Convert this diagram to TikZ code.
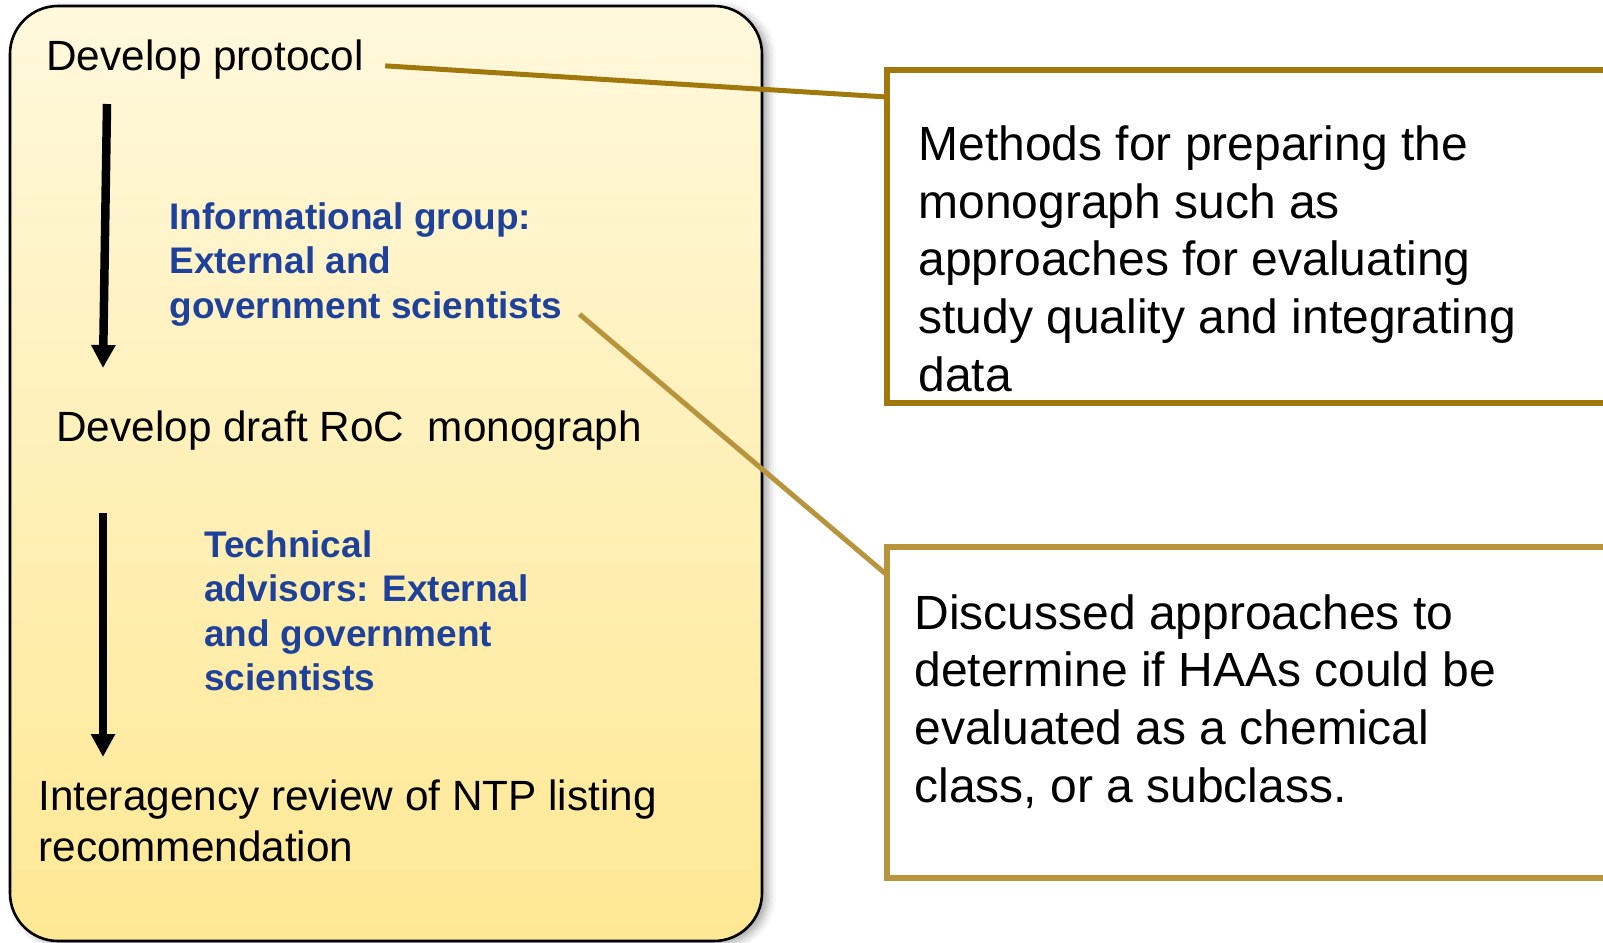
\documentclass[tikz,border=0pt]{standalone}
\usepackage{fontspec}
\setmainfont{Liberation Sans}
\usetikzlibrary{arrows.meta,shadows.blur}

\definecolor{panelTop}{RGB}{255,248,220}
\definecolor{panelBot}{RGB}{255,232,148}
\definecolor{darkGold}{RGB}{160,120,12}
\definecolor{lightGold}{RGB}{184,148,60}
\definecolor{whoBlue}{RGB}{30,65,155}

\begin{document}
\begin{tikzpicture}[x=0.5pt,y=-0.5pt,
  panel/.style={draw=black,line width=1.3pt,rounded corners=24pt,
    top color=panelTop,bottom color=panelBot,inner sep=0,outer sep=0,anchor=north west,
    blur shadow={shadow xshift=3pt,shadow yshift=-1.5pt,shadow blur radius=4pt,shadow opacity=35}},
  notebox/.style={draw=#1,line width=2.75pt,fill=white,inner sep=0,outer sep=0,
    anchor=north west,minimum width=420pt},
  stage/.style={anchor=base west,inner sep=0,align=left,font=\fontsize{21.15}{25.5}\selectfont},
  who/.style={anchor=base west,inner sep=0,align=left,text=whoBlue,
    font=\bfseries\fontsize{18.5}{22.25}\selectfont},
  note/.style={anchor=base west,inner sep=0,align=left,font=\fontsize{24}{28.8}\selectfont},
  flow/.style={line width=4.25pt,-{Triangle[width=11.5pt,length=11.5pt]}},
  link/.style={draw=#1,line width=2.5pt}]
\useasboundingbox (0,0) rectangle (1603,943);
\clip (0,0) rectangle (1603,943);

% process panel
\node[panel,minimum width=376pt,minimum height=467.5pt] (panel) at (10,6) {};

% multi-line nodes sit on their last baseline
\node[stage] (proto) at (46,70) {Develop protocol};
\node[stage] (draft) at (56,441.5) {Develop draft RoC\ \ monograph};
\node[stage] (review) at (38,861) {Interagency review of NTP listing\\recommendation};

\node[who] (info) at (169,318) {Informational group:\\External and\\government scientists};
\node[who] (tech) at (204,690.5) {Technical\\advisors: External\\and government\\scientists};

\coordinate (f1a) at (107,104);
\coordinate (f1b) at (103,368);
\coordinate (f2a) at (103,513);
\coordinate (f2b) at (103,757);
\draw[flow] (f1a) -- (f1b);
\draw[flow] (f2a) -- (f2b);

% notes on the right
\node[notebox=darkGold,minimum height=166.5pt] (boxA) at (887,70) {};
\node[notebox=lightGold,minimum height=165.5pt] (boxB) at (887,547) {};

\draw[link=darkGold] ([xshift=10.5pt,yshift=-3.4pt]proto.east) -- ([yshift=-13.5pt]boxA.north west);
\draw[link=lightGold] ([xshift=8.5pt,yshift=6pt]info.south east) -- ([yshift=-14pt]boxB.north west);

\node[note] (methods) at (918,391) {Methods for preparing the\\monograph such as\\approaches for evaluating\\study quality and integrating\\data};
\node[note] (discussed) at (914,802) {Discussed approaches to\\determine if HAAs could be\\evaluated as a chemical\\class, or a subclass.};
\end{tikzpicture}
\end{document}
